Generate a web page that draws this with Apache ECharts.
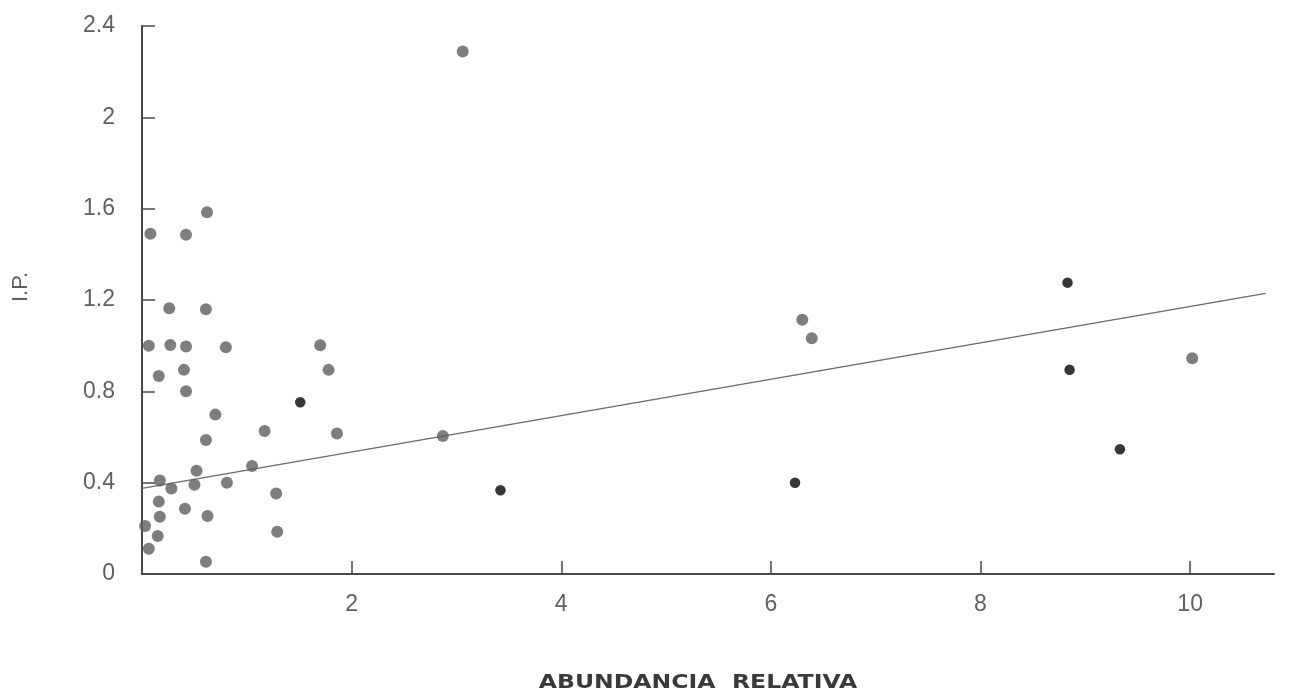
<!DOCTYPE html>
<html>
<head>
<meta charset="utf-8">
<script src="https://cdn.jsdelivr.net/npm/echarts@6/dist/echarts.min.js"></script>
<style>
  html, body { margin: 0; padding: 0; background: #fff; }
  #chart { width: 1293px; height: 697px; }
</style>
</head>
<body>
<div id="chart"></div>
<script>
// Relative abundance (x) against I.P. (y)
const grayX = [0.62, 0.08, 0.42, 0.26, 0.61, 0.065, 0.27, 0.42, 0.80, 0.16,
               0.40, 0.42, 0.70, 1.17, 0.61, 0.52, 1.05, 0.17, 0.28, 0.50,
               0.81, 1.28, 0.16, 0.41, 0.17, 0.625, 0.03, 0.15, 0.065, 0.61,
               1.29, 1.70, 1.78, 1.86, 3.06, 2.87, 6.30, 6.39, 10.02];
const grayY = [1.584, 1.49, 1.486, 1.164, 1.16, 1.00, 1.003, 0.996, 0.993, 0.867,
               0.894, 0.80, 0.698, 0.626, 0.587, 0.452, 0.473, 0.409, 0.374, 0.391,
               0.40, 0.353, 0.317, 0.286, 0.251, 0.254, 0.21, 0.166, 0.111, 0.054,
               0.185, 1.002, 0.894, 0.615, 2.288, 0.604, 1.113, 1.032, 0.945];

const blackX = [1.51, 3.42, 6.23, 8.83, 8.85, 9.33];
const blackY = [0.752, 0.367, 0.40, 1.276, 0.894, 0.546];

// Fitted regression line endpoints
const fitX = [0, 10.72];
const fitY = [0.375, 1.229];

const xTicks = [2, 4, 6, 8, 10];
const yTicks = [0, 0.4, 0.8, 1.2, 1.6, 2, 2.4];
const yTickLabels = ['0', '0.4', '0.8', '1.2', '1.6', '2', '2.4'];

const pairs = (xs, ys) => xs.map((x, i) => [x, ys[i]]);

const axisColor = '#4a4a4a';
const labelColor = '#606060';
const font = 'Liberation Sans, Arial, sans-serif';

const chart = echarts.init(document.getElementById('chart'));
chart.setOption({
  backgroundColor: '#ffffff',
  animation: false,
  grid: { left: 142, right: 19, top: 26, bottom: 123 },
  xAxis: {
    type: 'value',
    min: 0,
    max: 10.8,
    interval: 2,
    splitLine: { show: false },
    axisLine: { lineStyle: { color: axisColor, width: 2 } },
    axisTick: {
      inside: true, length: 13, customValues: xTicks,
      lineStyle: { color: axisColor, width: 1.5 }
    },
    axisLabel: {
      customValues: xTicks,
      margin: 19,
      color: labelColor,
      fontSize: 23,
      fontFamily: font
    }
  },
  yAxis: {
    type: 'value',
    min: 0,
    max: 2.4,
    interval: 0.4,
    splitLine: { show: false },
    axisLine: { show: true, lineStyle: { color: axisColor, width: 2 } },
    axisTick: {
      show: true, inside: true, length: 13, customValues: yTicks,
      lineStyle: { color: axisColor, width: 1.5 }
    },
    axisLabel: {
      customValues: yTicks,
      margin: 27,
      color: labelColor,
      fontSize: 23,
      fontFamily: font,
      formatter: v => {
        const i = yTicks.findIndex(t => Math.abs(t - v) < 1e-6);
        return i >= 0 ? yTickLabels[i] : '';
      }
    }
  },
  graphic: [
    {
      type: 'text',
      x: 21, y: 287,
      rotation: Math.PI / 2,
      style: {
        text: 'I.P.',
        fill: labelColor,
        font: '22px ' + font,
        align: 'center',
        verticalAlign: 'middle'
      }
    },
    {
      // axis title, stretched to the wide letter spacing of the original lettering
      type: 'text',
      x: 698, y: 683,
      scaleX: 1.24,
      style: {
        text: 'ABUNDANCIA  RELATIVA',
        fill: '#3a3a3a',
        font: 'bold 19px DejaVu Sans, sans-serif',
        align: 'center',
        verticalAlign: 'middle'
      }
    }
  ],
  series: [
    {
      type: 'line',
      data: pairs(fitX, fitY),
      symbol: 'none',
      lineStyle: { color: '#6a6a6a', width: 1.5 },
      z: 1
    },
    {
      type: 'scatter',
      data: pairs(grayX, grayY),
      symbolSize: 12,
      itemStyle: { color: '#5e5e5e' },
      z: 2
    },
    {
      type: 'scatter',
      data: pairs(blackX, blackY),
      symbolSize: 10.5,
      itemStyle: { color: '#050505' },
      z: 3
    }
  ]
});
</script>
</body>
</html>
